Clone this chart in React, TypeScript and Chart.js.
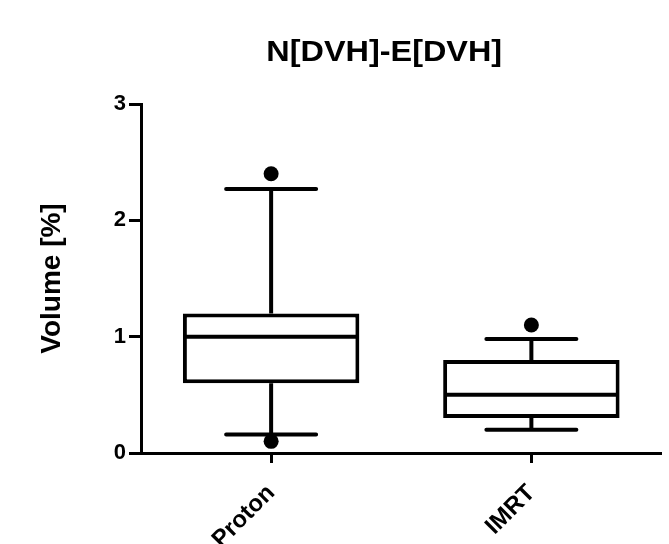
import React, { useEffect, useRef } from "react";
import { Chart, registerables } from "chart.js";

Chart.register(...registerables);

const TITLE = "N[DVH]-E[DVH]";
const Y_TITLE = "Volume [%]";
const categories = ["Proton", "IMRT"];
const q1 = [0.6, 0.3];
const median = [1.0, 0.5];
const q3 = [1.2, 0.8];
const whiskerLow = [0.16, 0.2];
const whiskerHigh = [2.27, 0.98];
const outliersHigh = [2.4, 1.1];
const outliersLow: (number | null)[] = [0.1, null];
const Y_MIN = 0;
const Y_MAX = 3;
const Y_STEP = 1;

const FONT = "'Liberation Sans', Arial, Helvetica, sans-serif";

const boxPlugin = {
  id: "boxExtras",
  beforeDatasetsDraw(chart: any) {
    const ctx = chart.ctx;
    const y = chart.scales.y;
    const meta = chart.getDatasetMeta(0);
    ctx.save();
    ctx.strokeStyle = "#000";
    ctx.lineWidth = 4;
    categories.forEach((_, i) => {
      const bar = meta.data[i];
      if (!bar) return;
      const cx = bar.x;
      const half = bar.width * 0.255;
      const yq1 = y.getPixelForValue(q1[i]);
      const yq3 = y.getPixelForValue(q3[i]);
      const yHi = y.getPixelForValue(whiskerHigh[i]);
      const yLo = y.getPixelForValue(whiskerLow[i]);
      ctx.lineCap = "butt";
      ctx.beginPath();
      ctx.moveTo(cx, yq3);
      ctx.lineTo(cx, yHi);
      ctx.moveTo(cx, yq1);
      ctx.lineTo(cx, yLo);
      ctx.stroke();
      ctx.lineCap = "round";
      ctx.beginPath();
      ctx.moveTo(cx - half, yHi);
      ctx.lineTo(cx + half, yHi);
      ctx.moveTo(cx - half, yLo);
      ctx.lineTo(cx + half, yLo);
      ctx.stroke();
    });
    ctx.restore();
  },
  afterDatasetsDraw(chart: any) {
    const ctx = chart.ctx;
    const y = chart.scales.y;
    const meta = chart.getDatasetMeta(0);
    ctx.save();
    ctx.strokeStyle = "#000";
    ctx.lineWidth = 4;
    categories.forEach((_, i) => {
      const bar = meta.data[i];
      if (!bar) return;
      const ym = y.getPixelForValue(median[i]);
      ctx.beginPath();
      ctx.moveTo(bar.x - bar.width / 2 + 2, ym);
      ctx.lineTo(bar.x + bar.width / 2 - 2, ym);
      ctx.stroke();
    });
    ctx.restore();
  },
  afterDraw(chart: any) {
    const ctx = chart.ctx;
    const area = chart.chartArea;
    ctx.save();
    ctx.fillStyle = "#000";
    ctx.font = `bold 30px ${FONT}`;
    ctx.textAlign = "center";
    ctx.textBaseline = "alphabetic";
    const cx = (area.left + area.right) / 2 - 17;
    ctx.translate(cx, 61);
    ctx.scale(1.08, 1);
    ctx.fillText(TITLE, 0, 0);
    ctx.restore();
  },
};

export default function App() {
  const ref = useRef<HTMLCanvasElement | null>(null);
  useEffect(() => {
    if (!ref.current) return;
    Chart.defaults.font.family = FONT;
    const chart = new Chart(ref.current, {
      type: "bar",
      data: {
        labels: categories,
        datasets: [
          {
            type: "bar",
            data: categories.map((_, i) => [q1[i], q3[i]]) as any,
            backgroundColor: "#ffffff",
            borderColor: "#000000",
            borderWidth: 4,
            borderSkipped: false,
            barPercentage: 0.678,
            categoryPercentage: 1,
            order: 2,
          } as any,
          {
            type: "line",
            data: outliersHigh,
            showLine: false,
            pointRadius: 7.5,
            pointBackgroundColor: "#000",
            pointBorderWidth: 0,
            order: 1,
          } as any,
          {
            type: "line",
            data: outliersLow,
            showLine: false,
            pointRadius: 7.5,
            pointBackgroundColor: "#000",
            pointBorderWidth: 0,
            order: 1,
          } as any,
        ],
      },
      options: {
        animation: false,
        responsive: false,
        devicePixelRatio: 1,
        layout: { padding: { top: 104, left: 0, right: 5, bottom: 0 } },
        plugins: {
          legend: { display: false },
          tooltip: { enabled: false },
          title: { display: false },
        },
        scales: {
          x: {
            type: "category",
            offset: true,
            grid: {
              display: true,
              drawOnChartArea: false,
              drawTicks: true,
              offset: false,
              tickLength: 10,
              tickWidth: 3,
              tickColor: "#000",
            },
            border: { display: true, color: "#000", width: 3 },
            ticks: {
              color: "#000",
              font: { size: 24, weight: "bold" },
              maxRotation: 45,
              minRotation: 45,
              padding: 16,
            },
            afterFit: (s: any) => {
              s.height = 91;
            },
          },
          y: {
            min: Y_MIN,
            max: Y_MAX,
            grid: {
              display: true,
              drawOnChartArea: false,
              drawTicks: true,
              tickLength: 12,
              tickWidth: 3,
              tickColor: "#000",
            },
            border: { display: true, color: "#000", width: 3 },
            ticks: {
              stepSize: Y_STEP,
              color: "#000",
              font: { size: 22, weight: "bold" },
              padding: 3,
            },
            title: {
              display: true,
              text: Y_TITLE,
              color: "#000",
              font: { size: 28, weight: "bold" },
              padding: { top: 35, bottom: 0 },
            },
            afterFit: (s: any) => {
              s.width = 141;
            },
          },
        },
      } as any,
      plugins: [boxPlugin],
    });
    return () => chart.destroy();
  }, []);
  return (
    <div style={{ position: "absolute", left: 0, top: 0, width: 669, height: 544, background: "#fff" }}>
      <canvas ref={ref} width={669} height={544} style={{ width: 669, height: 544, display: "block" }} />
    </div>
  );
}
